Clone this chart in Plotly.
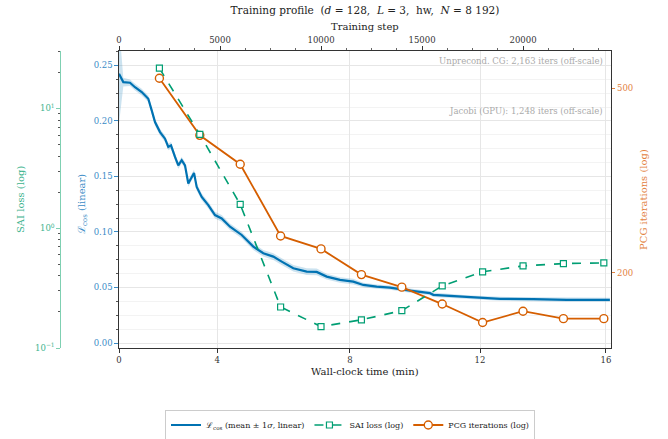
import plotly.graph_objects as go

# ---------------- data ----------------
cos_steps = [0, 213, 545, 792, 1124, 1450, 1619, 1782, 2030, 2277, 2440, 2574, 2772, 2935,
             3104, 3267, 3430, 3713, 3846, 4094, 4420, 4752, 5084, 5495, 6074, 6648, 7143,
             7638, 8054, 8628, 9291, 9786, 10281, 10940, 11598, 12093, 12756, 13415, 14405,
             15395, 15558, 17212, 18860, 20508, 22161, 24300]
cos_mean = [0.2425, 0.235, 0.2344, 0.2304, 0.226, 0.220, 0.2095, 0.199, 0.190, 0.184, 0.1766,
            0.178, 0.1676, 0.160, 0.1646, 0.160, 0.1437, 0.1532, 0.1406, 0.1316, 0.1242, 0.1152,
            0.1122, 0.1047, 0.0973, 0.0868, 0.0808, 0.0778, 0.0733, 0.0673, 0.0643, 0.064,
            0.0598, 0.0568, 0.0553, 0.0523, 0.0508, 0.0499, 0.0472, 0.0449, 0.0434, 0.0413,
            0.0398, 0.0395, 0.0389, 0.0389]
cos_std = [0.045, 0.004, 0.003, 0.003, 0.003, 0.003, 0.003, 0.003, 0.003, 0.003, 0.003,
           0.003, 0.003, 0.003, 0.003, 0.003, 0.003, 0.003, 0.003, 0.003, 0.003, 0.003,
           0.003, 0.003, 0.003, 0.003, 0.003, 0.003, 0.003, 0.003, 0.003, 0.003,
           0.0025, 0.0025, 0.0025, 0.002, 0.002, 0.002, 0.002, 0.002, 0.002, 0.0018,
           0.0018, 0.0018, 0.0018, 0.0018]

eval_steps = [2000, 4000, 6000, 8000, 10000, 12000, 14000, 16000, 18000, 20000, 22000, 24000]
sai_loss = [21.7, 6.07, 1.58, 0.22, 0.151, 0.172, 0.205, 0.33, 0.433, 0.485, 0.507, 0.514]
pcg_iters = [526, 396, 343, 240, 225, 198, 186, 171, 156, 165, 159, 159]

wall_minutes = [0, 4, 8, 12, 16]
wall_steps = [0, 4866, 11434, 17870, 24107]

notes = ["Unprecond. CG: 2,163 iters (off-scale)", "Jacobi (GPU): 1,248 iters (off-scale)"]

# ---------------- styling ----------------
FONT = "DejaVu Serif"
BLUE, GREEN, ORANGE = "#0072b2", "#009e73", "#d55e00"
BLUE_T, GREEN_T, ORANGE_T = "#3a8bc6", "#3cb38d", "#e3823f"
GREEN_SPINE = "#7fd0b2"
DARK = "#333333"

W, H = 668, 439
ML, MR, MT, MB = 5, 5, 51, 91
PW = W - ML - MR
PH = H - MT - MB


def px_x(px):
    return (px - ML) / PW


def px_y(py):
    return (H - MB - py) / PH


dom = [px_x(119), px_x(610.7)]
xmax = 24340

upper = [m + s for m, s in zip(cos_mean, cos_std)]
lower = [m - s for m, s in zip(cos_mean, cos_std)]

fig = go.Figure()
fig.add_trace(go.Scatter(x=cos_steps, y=upper, mode="lines", line=dict(width=0),
                         showlegend=False, hoverinfo="skip"))
fig.add_trace(go.Scatter(x=cos_steps, y=lower, mode="lines", line=dict(width=0),
                         fill="tonexty", fillcolor="rgba(0,114,178,0.2)",
                         showlegend=False, hoverinfo="skip"))
fig.add_trace(go.Scatter(x=cos_steps, y=cos_mean, mode="lines",
                         line=dict(color=BLUE, width=2.2), legendrank=1,
                         name="ℒ<sub>cos</sub> (mean ± 1<i>σ</i>, linear)"))
fig.add_trace(go.Scatter(x=eval_steps, y=pcg_iters, yaxis="y2", mode="lines+markers",
                         line=dict(color=ORANGE, width=1.8), legendrank=3,
                         marker=dict(symbol="circle", size=8, color="white",
                                     line=dict(color=ORANGE, width=1.4)),
                         name="PCG iterations (log)"))
fig.add_trace(go.Scatter(x=eval_steps, y=sai_loss, xaxis="x2", yaxis="y3",
                         mode="lines+markers",
                         line=dict(color=GREEN, width=1.6, dash="dash"), legendrank=2,
                         marker=dict(symbol="square", size=6, color="white",
                                     line=dict(color=GREEN, width=1.2)),
                         name="SAI loss (log)"))

tick_font = dict(family=FONT, size=8.5, color=DARK)

fig.update_layout(
    width=W, height=H,
    margin=dict(l=ML, r=MR, t=MT, b=MB, autoexpand=False),
    paper_bgcolor="white", plot_bgcolor="white",
    font=dict(family=FONT, size=10, color="#222"),
    title=dict(text="Training profile  (<i>d</i> = 128,  <i>L</i> = 3,  hw,  <i>N</i> = 8 192)",
               x=365 / W, y=1 - 10 / H, xanchor="center", yanchor="middle",
               font=dict(family=FONT, size=10.5, color="#222")),
    xaxis=dict(domain=dom, range=[0, xmax], tickmode="array",
               tickvals=wall_steps, ticktext=[str(m) for m in wall_minutes],
               showgrid=True, gridcolor="#e6e6e6", gridwidth=1,
               showline=True, linecolor=DARK, linewidth=1.3,
               ticks="outside", ticklen=3.5, tickcolor=DARK, tickfont=tick_font,
               zeroline=False, automargin=False,
               title=dict(text="Wall-clock time (min)", standoff=4,
                          font=dict(family=FONT, size=10, color="#222"))),
    xaxis2=dict(domain=dom, range=[0, xmax], overlaying="x", side="top", anchor="y",
                dtick=5000, tick0=0, tickformat="d", showgrid=False,
                showline=True, linecolor=DARK, linewidth=1.3,
                ticks="outside", ticklen=3.5, tickcolor=DARK, tickfont=tick_font,
                minor=dict(dtick=1250, ticks="outside", ticklen=2, tickcolor="#666"),
                zeroline=False, automargin=False,
                title=dict(text="Training step", standoff=2,
                           font=dict(family=FONT, size=10, color="#222"))),
    yaxis=dict(range=[-0.0045, 0.263], dtick=0.05, tick0=0, tickformat=".2f",
               showgrid=True, gridcolor="#e6e6e6",
               minor=dict(dtick=0.0125, ticks="outside", ticklen=2, tickcolor="#555",
                          showgrid=True, gridcolor="#f3f3f3"),
               showline=True, linecolor=DARK, linewidth=1.3,
               ticks="outside", ticklen=3.5, tickcolor=BLUE_T,
               tickfont=dict(family=FONT, size=8.5, color=BLUE_T),
               zeroline=False, automargin=False),
    yaxis2=dict(type="log", range=[2.138, 2.780], overlaying="y", side="right",
                anchor="x", tickmode="array", tickvals=[200, 500], ticktext=["200", "500"],
                showgrid=False, showline=True, linecolor=DARK, linewidth=1.3,
                ticks="outside", ticklen=3.5, tickcolor=ORANGE_T,
                tickfont=dict(family=FONT, size=8.5, color=ORANGE_T),
                zeroline=False, automargin=False),
    yaxis3=dict(type="log", range=[-1, 1.48], overlaying="y", side="left",
                anchor="free", position=px_x(60),
                tickmode="array", tickvals=[0.1, 1, 10],
                ticktext=["10<sup>−1</sup>", "10<sup>0</sup>", "10<sup>1</sup>"],
                minor=dict(tickmode="array",
                           tickvals=[0.2, 0.3, 0.4, 0.5, 0.6, 0.7, 0.8, 0.9,
                                     2, 3, 4, 5, 6, 7, 8, 9, 20, 30],
                           ticks="outside", ticklen=2, tickcolor="#555"),
                showgrid=False, showline=True, linecolor=GREEN_SPINE, linewidth=1.3,
                ticks="outside", ticklen=3.5, tickcolor=GREEN_SPINE,
                tickfont=dict(family=FONT, size=8.5, color=GREEN_T),
                zeroline=False, automargin=False),
    legend=dict(orientation="h", x=px_x(350), y=px_y(425), xanchor="center",
                yanchor="middle", bgcolor="white", bordercolor="#cccccc", borderwidth=1,
                font=dict(family=FONT, size=8, color="#222"),
                itemwidth=30, traceorder="normal"),
    showlegend=True,
)

ann = []
ann.append(dict(text=notes[0], xref="paper", yref="paper", x=px_x(605), y=px_y(61),
                xanchor="right", yanchor="middle", showarrow=False,
                font=dict(family=FONT, size=8.5, color="#aaaaaa")))
ann.append(dict(text=notes[1], xref="paper", yref="paper", x=px_x(605), y=px_y(110.7),
                xanchor="right", yanchor="middle", showarrow=False,
                font=dict(family=FONT, size=8.5, color="#aaaaaa")))
ann.append(dict(text="SAI loss (log)", xref="paper", yref="paper", x=px_x(20), y=px_y(200),
                xanchor="center", yanchor="middle", textangle=-90, showarrow=False,
                font=dict(family=FONT, size=10, color=GREEN_T)))
ann.append(dict(text="ℒ<sub>cos</sub> (linear)", xref="paper", yref="paper", x=px_x(82),
                y=px_y(204), xanchor="center", yanchor="middle", textangle=-90,
                showarrow=False, font=dict(family=FONT, size=10, color=BLUE_T)))
ann.append(dict(text="PCG iterations (log)", xref="paper", yref="paper", x=px_x(643),
                y=px_y(200), xanchor="center", yanchor="middle", textangle=-90,
                showarrow=False, font=dict(family=FONT, size=10, color=ORANGE_T)))
fig.update_layout(annotations=ann)

fig.write_html("out.html", config={"displayModeBar": False},
               post_script="document.body.style.margin='0';")
